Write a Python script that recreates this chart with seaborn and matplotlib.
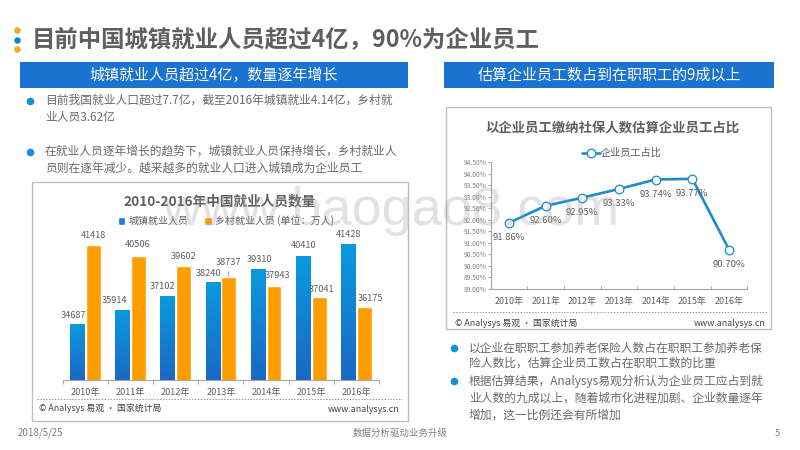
import numpy as np
import pandas as pd
import matplotlib
matplotlib.use('Agg')
import matplotlib.pyplot as plt
from matplotlib.colors import LinearSegmentedColormap
from matplotlib.patches import Rectangle
import seaborn as sns

# --- datos ---
anios = ['2010年', '2011年', '2012年', '2013年', '2014年', '2015年', '2016年']
urbano = [34687, 35914, 37102, 38240, 39310, 40410, 41428]
rural = [41418, 40506, 39602, 38737, 37943, 37041, 36175]
ratio = [91.86, 92.60, 92.95, 93.33, 93.74, 93.77, 90.70]
ratio_ticks = [89.0, 89.5, 90.0, 90.5, 91.0, 91.5, 92.0, 92.5, 93.0, 93.5, 94.0, 94.5]

sns.set_theme(style='white')
plt.rcParams['font.family'] = ['Noto Sans CJK SC', 'DejaVu Sans']

AZUL = '#1a73d0'
NARANJA = '#ff9c00'
GRIS = '#5f5f5f'
W, H = 800, 450

fig = plt.figure(figsize=(8, 4.5), dpi=100, facecolor='white')


def caja_ax(x0, y0, x1, y1):
    # ejes colocados con pixeles de la imagen (y hacia abajo)
    return fig.add_axes([x0 / W, 1 - y1 / H, (x1 - x0) / W, (y1 - y0) / H])


# --- capa de fondo: textos y cajas de la diapositiva ---
bg = fig.add_axes([0, 0, 1, 1], zorder=0)
bg.set_xlim(0, W)
bg.set_ylim(H, 0)
bg.axis('off')

for y, c in [(30, '#f5a81c'), (39.5, '#0f86cf'), (49, '#f5a81c')]:
    bg.scatter([17], [y], s=22, color=c, linewidths=0)
bg.text(32, 39, '目前中国城镇就业人员超过4亿，90%为企业员工', fontsize=16.8, fontweight='bold',
        color=GRIS, va='center')

for x0, x1, txt in [(20, 408, '城镇就业人员超过4亿，数量逐年增长'),
                    (444, 774, '估算企业员工数占到在职职工的9成以上')]:
    bg.add_patch(Rectangle((x0, 62), x1 - x0, 26, color=AZUL, lw=0))
    bg.text((x0 + x1) / 2, 75.5, txt, fontsize=10.85, color='white', ha='center', va='center')

bullets = [
    (30, 45, 100.5, '目前我国就业人口超过7.7亿，截至2016年城镇就业4.14亿，乡村就', True),
    (30, 45, 117, '业人员3.62亿', False),
    (30, 45, 151.5, '在就业人员逐年增长的趋势下，城镇就业人员保持增长，乡村就业人', True),
    (30, 45, 168.5, '员则在逐年减少。越来越多的就业人口进入城镇成为企业员工', False),
    (454, 469, 348, '以企业在职职工参加养老保险人数占在职职工参加养老保', True),
    (454, 469, 363, '险人数比，估算企业员工数占在职职工数的比重', False),
    (454, 469, 381, '根据估算结果，Analysys易观分析认为企业员工应占到就', True),
    (454, 469, 398, '业人数的九成以上，随着城市化进程加剧、企业数量逐年', False),
    (454, 469, 415, '增加，这一比例还会有所增加', False),
]
for xb, xt, y, txt, punto in bullets:
    if punto:
        bg.scatter([xb], [y], s=30, color='#0f8fdc', linewidths=0)
    bg.text(xt, y, txt, fontsize=8.5, color='#6a6a6a', va='center')

# marcos de los dos graficos
for x0, y0, x1, y1 in [(31.5, 182, 408, 421), (446, 107, 771, 329)]:
    bg.add_patch(Rectangle((x0, y0), x1 - x0, y1 - y0, fill=False, ec='#bfbfbf', lw=1))

bg.text(220, 201, '2010-2016年中国就业人员数量', fontsize=9.8, fontweight='bold',
        color=GRIS, ha='center', va='center')
bg.text(612, 129, '以企业员工缴纳社保人数估算企业员工占比', fontsize=9.6, fontweight='bold',
        color=GRIS, ha='center', va='center')

for x0, x1, y, yt in [(37, 402, 399, 408), (453, 768, 312, 323)]:
    bg.plot([x0, x1], [y, y], color='#999999', lw=0.7, ls=(0, (1.5, 1.5)))
    bg.text(x0 + 2, yt, '© Analysys 易观 · 国家统计局', fontsize=6.4, color='#444444', va='center')
    bg.text(x1 - 2, yt + 1, 'www.analysys.cn', fontsize=6.4, color='#444444', va='center', ha='right')

bg.text(18, 433, '2018/5/25', fontsize=7, color='#808080', va='center')
bg.text(400, 433, '数据分析驱动业务升级', fontsize=6.8, color='#808080', va='center', ha='center')
bg.text(777, 433, '5', fontsize=6.8, color='#808080', va='center', ha='center')

# --- grafico de barras ---
df = pd.DataFrame({
    'anio': anios * 2,
    'valor': urbano + rural,
    'serie': ['城镇就业人员'] * 7 + ['乡村就业人员 (单位：万人)'] * 7,
})
ax1 = caja_ax(62.7, 230, 379, 380)
ax1.patch.set_alpha(0)
sns.barplot(data=df, x='anio', y='valor', hue='serie', palette=['#0f86d8', NARANJA],
            width=0.7, gap=0.06, saturation=1, ax=ax1)
ax1.set_xlim(-0.5, 6.5)
ax1.set_ylim(30000, 42687)

# degradado de las barras azules
degradado = LinearSegmentedColormap.from_list('azul', ['#1b68c4', '#0a9ade'])
grad = np.linspace(1, 0, 64).reshape(-1, 1)
for p in ax1.containers[0]:
    ax1.imshow(grad, cmap=degradado, aspect='auto', zorder=3,
               extent=(p.get_x(), p.get_x() + p.get_width(), 30000, p.get_height()))
ax1.set_xlim(-0.5, 6.5)
ax1.set_ylim(30000, 42687)

# desplazamiento de cada etiqueta en pixeles (dx, dy)
off_urbano = [(-4, 9), (-8, 10), (-5, 10), (-4, 9), (1, 10), (0, 11), (0, 10)]
off_rural = [(0, 10), (-1, 11), (0, 10), (0, 14), (4, 11), (2, 7), (6, 8)]
for cont, vals, offs in [(ax1.containers[0], urbano, off_urbano), (ax1.containers[1], rural, off_rural)]:
    for p, v, o in zip(cont, vals, offs):
        ax1.annotate(str(v), (p.get_x() + p.get_width() / 2, v), xytext=o, textcoords='offset pixels',
                     ha='center', va='center', fontsize=6.6, color=GRIS, zorder=5)
p = ax1.containers[1][3]
ax1.annotate('', (p.get_x() + p.get_width() / 2, rural[3]), xytext=(0, 5), textcoords='offset pixels',
             arrowprops=dict(arrowstyle='-', color='#999999', lw=0.6, shrinkA=0, shrinkB=0))

sns.despine(ax=ax1, left=True)
ax1.spines['bottom'].set_color('#a6a6a6')
ax1.spines['bottom'].set_linewidth(0.8)
ax1.set_xlabel('')
ax1.set_ylabel('')
ax1.set_yticks([])
ax1.set_xticks(np.arange(-0.5, 7), minor=True)
ax1.tick_params(axis='x', which='minor', length=3, width=0.7, color='#a6a6a6', bottom=True)
ax1.tick_params(axis='x', which='major', length=0, labelsize=6.6, labelcolor=GRIS, pad=6)
h, l = ax1.get_legend_handles_labels()
ax1.legend(h, l, ncols=2, loc='center', bbox_to_anchor=(226 / W, 1 - 221 / H),
           bbox_transform=fig.transFigure, frameon=False, fontsize=7.2, labelcolor=GRIS,
           handlelength=0.75, handleheight=0.75, handletextpad=0.3, columnspacing=1.6,
           borderpad=0, borderaxespad=0)

# --- grafico de linea ---
df2 = pd.DataFrame({'anio': anios, 'ratio': ratio, 'serie': '企业员工占比'})
ax2 = caja_ax(490.7, 162, 747.3, 288.7)
ax2.patch.set_alpha(0)
sns.lineplot(data=df2, x='anio', y='ratio', hue='serie', palette=['#1a8ccf'], sort=False,
             marker='o', markersize=6.2, markerfacecolor='white', markeredgecolor='#1a8ccf',
             markeredgewidth=0.9, linewidth=1.9, ax=ax2)
ax2.set_xlim(-0.5, 6.5)
ax2.set_ylim(89, 94.5)
ax2.set_yticks(ratio_ticks)
ax2.set_yticklabels([f'{t:.2f}%' for t in ratio_ticks])
for i, v in enumerate(ratio):
    ax2.annotate(f'{v:.2f}%', (i, v), xytext=(0, -15), textcoords='offset pixels',
                 ha='center', va='center', fontsize=6.8, color=GRIS)

sns.despine(ax=ax2)
for s in ['left', 'bottom']:
    ax2.spines[s].set_color('#a6a6a6')
    ax2.spines[s].set_linewidth(0.8)
ax2.set_xlabel('')
ax2.set_ylabel('')
ax2.set_xticks(np.arange(-0.5, 7), minor=True)
ax2.tick_params(axis='x', which='minor', length=2, width=0.7, color='#a6a6a6', direction='in', bottom=True)
ax2.tick_params(axis='x', which='major', length=0, labelsize=6.4, labelcolor=GRIS, pad=6)
ax2.tick_params(axis='y', length=2, width=0.7, color='#a6a6a6', labelsize=4.8, labelcolor='#7f7f7f', pad=1, left=True)
h, l = ax2.get_legend_handles_labels()
ax2.legend(h, l, loc='center', bbox_to_anchor=(622 / W, 1 - 153 / H), bbox_transform=fig.transFigure,
           frameon=False, fontsize=7.3, labelcolor=GRIS, handlelength=1.75, handletextpad=0.1,
           borderpad=0, borderaxespad=0)

# marca de agua de la fuente original
fig.text(391 / W, 1 - 225 / H, 'www.baogao8.com', fontsize=39, color='#999999', alpha=0.28,
         ha='center', va='baseline', family='Liberation Sans', zorder=10)

fig.savefig('out.png', dpi=100)
plt.close(fig)
